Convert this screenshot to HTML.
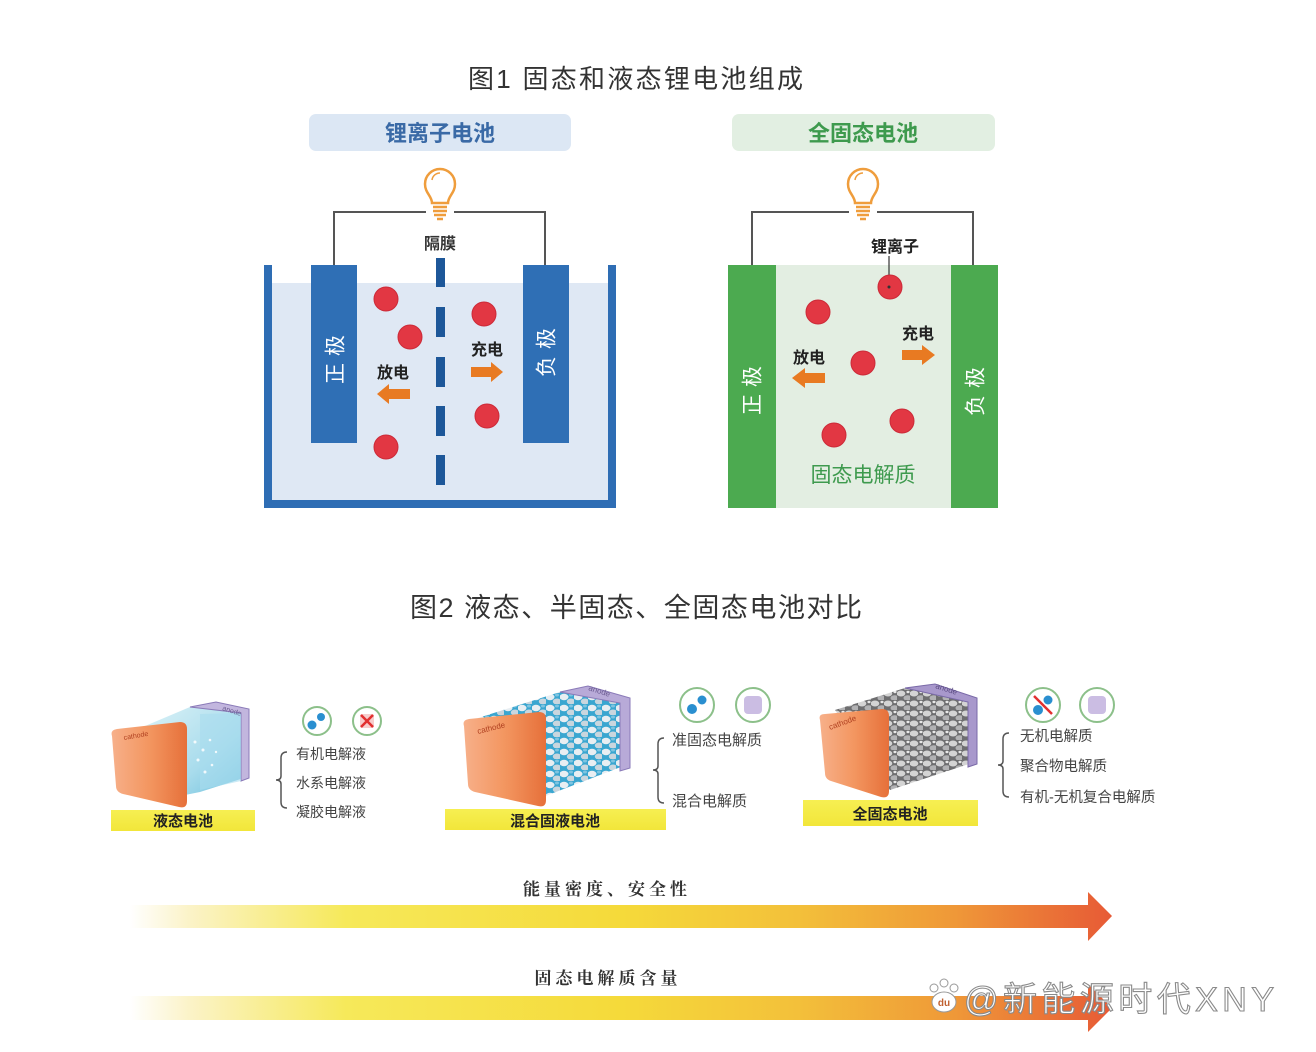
<!DOCTYPE html>
<html><head><meta charset="utf-8"><style>
html,body{margin:0;padding:0;background:#fff;}
svg{display:block;}
text{font-family:"Liberation Sans","Noto Sans CJK SC",sans-serif;}
.s{font-family:"Liberation Serif","Noto Serif CJK SC",serif;}
</style></head><body>
<svg width="1316" height="1052" viewBox="0 0 1316 1052" xmlns="http://www.w3.org/2000/svg">
<defs>
<linearGradient id="ar" x1="130" y1="0" x2="1112" y2="0" gradientUnits="userSpaceOnUse">
<stop offset="0" stop-color="#ffffff"/>
<stop offset="0.06" stop-color="#fbf3c8"/>
<stop offset="0.22" stop-color="#f6e95a"/>
<stop offset="0.5" stop-color="#f5da3a"/>
<stop offset="0.68" stop-color="#f3c03a"/>
<stop offset="0.84" stop-color="#ef9838"/>
<stop offset="1" stop-color="#e75a36"/>
</linearGradient>
<linearGradient id="og" x1="0" y1="0" x2="1" y2="0">
<stop offset="0" stop-color="#f7b08a"/>
<stop offset="0.5" stop-color="#f39660"/>
<stop offset="1" stop-color="#e6703a"/>
</linearGradient>
<linearGradient id="bg1" x1="0" y1="0" x2="1" y2="1">
<stop offset="0" stop-color="#d6f0f6"/>
<stop offset="0.6" stop-color="#9fd8ea"/>
<stop offset="1" stop-color="#5cb8d8"/>
</linearGradient>
<linearGradient id="yb" x1="0" y1="0" x2="0" y2="1">
<stop offset="0" stop-color="#f6ef52"/>
<stop offset="1" stop-color="#f2e63a"/>
</linearGradient>
<pattern id="pb" width="14" height="11" patternUnits="userSpaceOnUse">
<rect width="14" height="11" fill="#3aa6d0"/>
<ellipse cx="4" cy="4" rx="4.5" ry="3.2" fill="#e8eef2"/>
<ellipse cx="11" cy="8.5" rx="4.2" ry="3" fill="#c9d6de"/>
<ellipse cx="11" cy="2" rx="2" ry="1.5" fill="#7fc4e0"/>
</pattern>
<pattern id="pg" width="13" height="10" patternUnits="userSpaceOnUse">
<rect width="13" height="10" fill="#6e6e70"/>
<ellipse cx="4" cy="3.5" rx="4.3" ry="3" fill="#d4d4d4"/>
<ellipse cx="10.5" cy="8" rx="4" ry="2.8" fill="#b2b2b4"/>
<ellipse cx="11" cy="2" rx="1.6" ry="1.2" fill="#e8e8e8"/>
</pattern>
</defs>

<!-- Titles -->
<text x="468" y="88" font-size="26" fill="#333" textLength="335" lengthAdjust="spacing">图1 固态和液态锂电池组成</text>

<rect x="309" y="114" width="262" height="37" rx="7" fill="#dce7f4"/>
<text x="440" y="141" font-size="22" font-weight="bold" fill="#3a6aa6" text-anchor="middle">锂离子电池</text>
<rect x="732" y="114" width="263" height="37" rx="7" fill="#e2efe2"/>
<text x="863" y="141" font-size="22" font-weight="bold" fill="#3e9a4e" text-anchor="middle">全固态电池</text>

<!-- Left battery -->
<g>
<rect x="272" y="283" width="336" height="217" fill="#dfe8f4"/>
<path d="M264 265 H272 V500 H608 V265 H616 V508 H264 Z" fill="#2e6db4"/>
<path d="M334 265 V212 H426 M454 212 H545 V265" fill="none" stroke="#555" stroke-width="2"/>
<rect x="311" y="265" width="46" height="178" fill="#2f6fb5"/>
<rect x="523" y="265" width="46" height="178" fill="#2f6fb5"/>
<text transform="translate(335,356) rotate(-90)" font-size="21" fill="#fff" text-anchor="middle" dy="0.36em" letter-spacing="7">正极</text>
<text transform="translate(546,349) rotate(-90)" font-size="21" fill="#fff" text-anchor="middle" dy="0.36em" letter-spacing="7">负极</text>
<g fill="#1d5799">
<rect x="436" y="258" width="9" height="29"/>
<rect x="436" y="307" width="9" height="30"/>
<rect x="436" y="357" width="9" height="30"/>
<rect x="436" y="406" width="9" height="30"/>
<rect x="436" y="455" width="9" height="30"/>
</g>
<text x="440" y="249" font-size="16" font-weight="600" fill="#333" text-anchor="middle">隔膜</text>
<g fill="#e23743" stroke="#cc2a38" stroke-width="1">
<circle cx="386" cy="299" r="12"/>
<circle cx="410" cy="337" r="12"/>
<circle cx="386" cy="447" r="12"/>
<circle cx="484" cy="314" r="12"/>
<circle cx="487" cy="416" r="12"/>
</g>
<text x="393" y="378" font-size="16" font-weight="600" fill="#222" text-anchor="middle">放电</text>
<polygon points="410,389 389,389 389,384 377,394 389,404 389,399 410,399" fill="#e87a22"/>
<text x="487" y="355" font-size="16" font-weight="600" fill="#222" text-anchor="middle">充电</text>
<polygon points="471,367 491,367 491,362 503,372 491,382 491,377 471,377" fill="#e87a22"/>
<path d="M432 203 C432 196 425 193 425 184 A15 15 0 1 1 455 184 C455 193 448 196 448 203 Z" fill="#fff" stroke="#ef9d3c" stroke-width="2.5"/>
<path d="M432 180 A8 8 0 0 1 440 173" fill="none" stroke="#ef9d3c" stroke-width="1.5"/>
<g stroke="#ef9d3c" stroke-width="2.5"><line x1="433" y1="207" x2="447" y2="207"/><line x1="433" y1="211" x2="447" y2="211"/><line x1="434" y1="215" x2="446" y2="215"/><line x1="437" y1="219" x2="443" y2="219"/></g>
</g>

<!-- Right battery -->
<g>
<rect x="776" y="265" width="175" height="243" fill="#e3eee2"/>
<path d="M752 265 V212 H849 M877 212 H973 V265" fill="none" stroke="#555" stroke-width="2"/>
<rect x="728" y="265" width="48" height="243" fill="#4caa50"/>
<rect x="951" y="265" width="47" height="243" fill="#4caa50"/>
<text transform="translate(752,387) rotate(-90)" font-size="21" fill="#fff" text-anchor="middle" dy="0.36em" letter-spacing="7">正极</text>
<text transform="translate(975,388) rotate(-90)" font-size="21" fill="#fff" text-anchor="middle" dy="0.36em" letter-spacing="7">负极</text>
<text x="895" y="252" font-size="16" font-weight="600" fill="#222" text-anchor="middle">锂离子</text>
<line x1="889" y1="256" x2="889" y2="288" stroke="#333" stroke-width="1.2"/>
<g fill="#e23743" stroke="#cc2a38" stroke-width="1">
<circle cx="890" cy="287" r="12"/>
<circle cx="818" cy="312" r="12"/>
<circle cx="863" cy="363" r="12"/>
<circle cx="902" cy="421" r="12"/>
<circle cx="834" cy="435" r="12"/>
</g>
<circle cx="889" cy="287" r="1.5" fill="#333"/>
<text x="918" y="339" font-size="16" font-weight="600" fill="#222" text-anchor="middle">充电</text>
<polygon points="902,350 922,350 922,345 935,355 922,365 922,360 902,360" fill="#e87a22"/>
<text x="809" y="363" font-size="16" font-weight="600" fill="#222" text-anchor="middle">放电</text>
<polygon points="825,373 805,373 805,368 792,378 805,388 805,383 825,383" fill="#e87a22"/>
<text x="863" y="482" font-size="21" fill="#3e9a4e" text-anchor="middle">固态电解质</text>
<path d="M855 203 C855 196 848 193 848 184 A15 15 0 1 1 878 184 C878 193 871 196 871 203 Z" fill="#fff" stroke="#ef9d3c" stroke-width="2.5"/>
<path d="M855 180 A8 8 0 0 1 863 173" fill="none" stroke="#ef9d3c" stroke-width="1.5"/>
<g stroke="#ef9d3c" stroke-width="2.5"><line x1="856" y1="207" x2="870" y2="207"/><line x1="856" y1="211" x2="870" y2="211"/><line x1="857" y1="215" x2="869" y2="215"/><line x1="860" y1="219" x2="866" y2="219"/></g>
</g>

<!-- Title 2 -->
<text x="410" y="617" font-size="27" fill="#333" textLength="452" lengthAdjust="spacing">图2 液态、半固态、全固态电池对比</text>

<!-- Bottom-left liquid battery -->
<g>
<polygon points="145,726 190,707 247,712 247,777 200,792 185,795" fill="url(#bg1)" opacity="0.9"/>
<polygon points="190,707 216,702 249,709 249,778 241,781 241,713" fill="#c2b6de" stroke="#8a7ab8" stroke-width="1"/>
<polygon points="200,714 241,713 241,781 200,790" fill="#a8dcee" opacity="0.6"/>
<g fill="#fff" opacity="0.85"><circle cx="195" cy="742" r="1.5"/><circle cx="203" cy="750" r="1.5"/><circle cx="210" cy="740" r="1.3"/><circle cx="198" cy="760" r="1.5"/><circle cx="212" cy="765" r="1.3"/><circle cx="205" cy="772" r="1.5"/><circle cx="216" cy="752" r="1.2"/></g>
<text transform="translate(222,710) rotate(18)" font-size="7" fill="#6a5a90">anode</text>
<path d="M112 736 Q110 730 117 729 L180 722 Q187 722 187 729 L187 801 Q187 809 179 807 L123 794 Q116 792 116 786 Z" fill="url(#og)"/>
<text transform="translate(124,740) rotate(-10)" font-size="7" fill="#b04020">cathode</text>
<rect x="111" y="810" width="144" height="21" fill="url(#yb)"/>
<text x="183" y="826" font-size="15" font-weight="bold" fill="#222" text-anchor="middle">液态电池</text>
<circle cx="317" cy="721" r="14" fill="#fff" stroke="#8cc08a" stroke-width="2"/>
<circle cx="312" cy="725" r="4.5" fill="#2a8fd0"/><circle cx="321" cy="717" r="4" fill="#2a8fd0"/>
<circle cx="367" cy="721" r="14" fill="#fff" stroke="#8cc08a" stroke-width="2"/>
<rect x="360" y="714" width="14" height="14" rx="2" fill="#f7cccc"/>
<path d="M361 715 L373 727 M373 715 L361 727" stroke="#e23030" stroke-width="2.5"/>
<path d="M287 752 Q281 752 281 758 L281 776 Q281 780 276 780 Q281 780 281 784 L281 802 Q281 808 287 808" fill="none" stroke="#555" stroke-width="1.5"/>
<g font-size="14" fill="#444"><text x="296" y="759">有机电解液</text><text x="296" y="788">水系电解液</text><text x="296" y="817">凝胶电解液</text></g>
</g>

<!-- Bottom-middle hybrid -->
<g>
<polygon points="478,718 560,692 626,700 626,765 548,795 540,800" fill="url(#pb)"/>
<polygon points="560,692 588,686 630,698 630,768 620,771 620,703" fill="#b8aad8" stroke="#8a7ab8" stroke-width="1"/>
<text transform="translate(588,690) rotate(18)" font-size="8" fill="#6a5a90">anode</text>
<path d="M464 726 Q462 720 469 719 L539 712 Q546 712 546 719 L546 800 Q546 808 538 806 L475 792 Q468 790 468 784 Z" fill="url(#og)"/>
<text transform="translate(478,734) rotate(-14)" font-size="8" fill="#b04020">cathode</text>
<rect x="445" y="809" width="221" height="21" fill="url(#yb)"/>
<text x="555" y="826" font-size="15" font-weight="bold" fill="#222" text-anchor="middle">混合固液电池</text>
<circle cx="697" cy="705" r="17" fill="#fff" stroke="#8cc08a" stroke-width="2"/>
<circle cx="692" cy="709" r="5" fill="#2a8fd0"/><circle cx="702" cy="700" r="4.5" fill="#2a8fd0"/>
<circle cx="753" cy="705" r="17" fill="#fff" stroke="#8cc08a" stroke-width="2"/>
<rect x="744" y="696" width="18" height="18" rx="4" fill="#cbbde3"/>
<path d="M664 738 Q658 738 658 744 L658 766 Q658 770 653 770 Q658 770 658 774 L658 797 Q658 803 664 803" fill="none" stroke="#555" stroke-width="1.5"/>
<g font-size="15" fill="#444"><text x="672" y="745">准固态电解质</text><text x="672" y="806">混合电解质</text></g>
</g>

<!-- Bottom-right all-solid -->
<g>
<polygon points="835,710 905,688 975,700 975,762 890,790" fill="url(#pg)"/>
<polygon points="905,688 935,684 977,698 977,764 968,767 968,702" fill="#a898cc" stroke="#7a6aa8" stroke-width="1"/>
<text transform="translate(935,688) rotate(18)" font-size="8" fill="#5a4a80">anode</text>
<path d="M820 720 Q818 714 825 714 L882 709 Q889 709 889 716 L889 791 Q889 799 881 797 L831 781 Q825 779 825 773 Z" fill="url(#og)"/>
<text transform="translate(830,730) rotate(-20)" font-size="8" fill="#b04020">cathode</text>
<rect x="803" y="800" width="175" height="26" fill="url(#yb)"/>
<text x="890" y="819" font-size="15" font-weight="bold" fill="#222" text-anchor="middle">全固态电池</text>
<circle cx="1043" cy="705" r="17" fill="#fff" stroke="#8cc08a" stroke-width="2"/>
<circle cx="1038" cy="710" r="5" fill="#2a8fd0"/><circle cx="1048" cy="700" r="4.5" fill="#2a8fd0"/>
<line x1="1034" y1="696" x2="1052" y2="714" stroke="#e23030" stroke-width="2.5"/>
<circle cx="1097" cy="705" r="17" fill="#fff" stroke="#8cc08a" stroke-width="2"/>
<rect x="1088" y="696" width="18" height="18" rx="4" fill="#cbbde3"/>
<path d="M1009 733 Q1003 733 1003 739 L1003 761 Q1003 765 998 765 Q1003 765 1003 769 L1003 791 Q1003 797 1009 797" fill="none" stroke="#555" stroke-width="1.5"/>
<g font-size="14.5" fill="#444"><text x="1020" y="741">无机电解质</text><text x="1020" y="771">聚合物电解质</text><text x="1020" y="802">有机-无机复合电解质</text></g>
</g>

<!-- Big arrows -->
<text class="s" x="607" y="895" font-size="17" font-weight="bold" fill="#333" text-anchor="middle" letter-spacing="4">能量密度、安全性</text>
<polygon points="130,905 1088,905 1088,892 1112,916 1088,941 1088,928 130,928" fill="url(#ar)"/>
<text class="s" x="608" y="984" font-size="17" font-weight="bold" fill="#333" text-anchor="middle" letter-spacing="4">固态电解质含量</text>
<polygon points="130,996 1088,996 1088,984 1112,1008 1088,1032 1088,1020 130,1020" fill="url(#ar)"/>

<!-- Watermark -->
<g fill="#fff" stroke="#999" stroke-width="1">
<circle cx="934" cy="988" r="4"/><circle cx="944" cy="983" r="4"/><circle cx="954" cy="988" r="4"/>
<ellipse cx="944" cy="1002" rx="12" ry="10"/>
</g>
<text x="944" y="1006" font-size="10" font-weight="bold" fill="#c06030" text-anchor="middle">du</text>
<text x="964" y="1011" font-size="34" fill="#fff" stroke="#8a8a8a" stroke-width="1.1" textLength="310" lengthAdjust="spacing">@新能源时代XNY</text>
</svg>
</body></html>
